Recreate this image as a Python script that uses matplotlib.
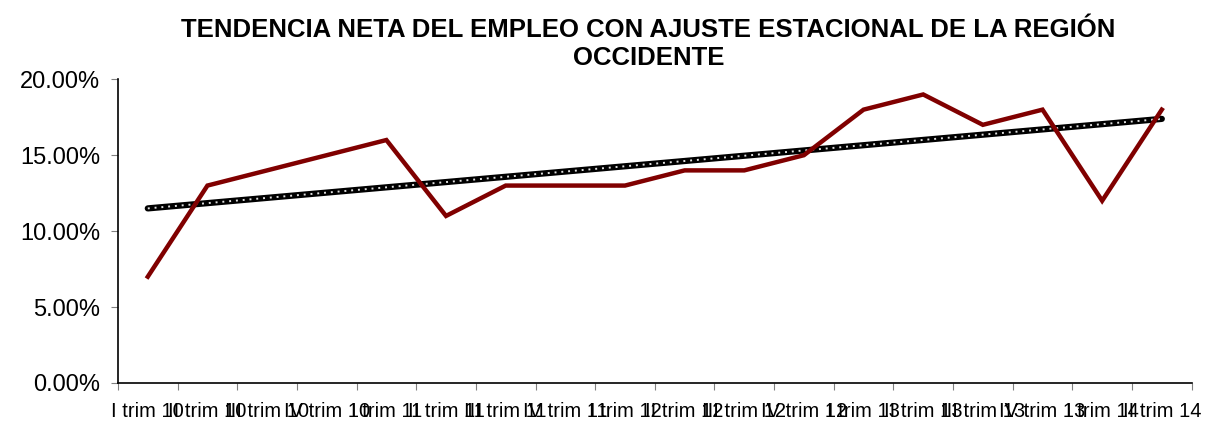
import numpy as np
import matplotlib.pyplot as plt

plt.rcParams["font.family"] = ["Liberation Sans", "DejaVu Sans"]

# Quarter labels and net employment trend (%)
quarters = ["I trim 10", "II trim 10", "III trim 10", "IV trim 10",
            "I trim 11", "II trim 11", "III trim 11", "IV trim 11",
            "I trim 12", "II trim 12", "III trim 12", "IV trim 12",
            "I trim 13", "II trim 13", "III trim 13", "IV trim 13",
            "I trim 14", "II trim 14"]
tendencia = [7, 13, 14, 15, 16, 11, 13, 13, 13, 14, 14, 15, 18, 19, 17, 18, 12, 18]

x = np.arange(len(quarters))
y = np.array(tendencia, dtype=float)

# linear trend line
slope, intercept = np.polyfit(x, y, 1)
trend = slope * x + intercept

fig = plt.figure(figsize=(12.05, 4.23), dpi=100)
ax = fig.add_axes([0.0979, 0.0946, 0.891, 0.718])

ax.plot(x, trend, color="black", linewidth=4.5, solid_capstyle="round", zorder=2)
ax.plot(x, trend, color="#e0e0e0", linewidth=1.4, linestyle=(0, (1, 2.5)), zorder=3)
ax.plot(x, y, color="#800000", linewidth=3.2, solid_joinstyle="miter", zorder=4)

ax.set_xlim(-0.5, len(quarters) - 0.5)
ax.set_ylim(0, 20)
ax.set_yticks([0, 5, 10, 15, 20])
ax.set_yticklabels(["0.00%", "5.00%", "10.00%", "15.00%", "20.00%"])

# ticks between categories, labels at centers
ax.set_xticks(np.arange(-0.5, len(quarters), 1.0))
ax.set_xticklabels([])
ax.set_xticks(x, minor=True)
ax.set_xticklabels(quarters, minor=True)
ax.tick_params(axis="x", which="minor", length=0, labelsize=14.5, pad=14)
ax.tick_params(axis="x", which="major", length=5, color="#808080")
ax.tick_params(axis="y", length=5, color="#808080", labelsize=17, pad=8)

ax.spines["top"].set_visible(False)
ax.spines["right"].set_visible(False)
ax.spines["left"].set_linewidth(1.2)
ax.spines["bottom"].set_linewidth(1.2)

fig.text(0.538, 0.958, "TENDENCIA NETA DEL EMPLEO CON AJUSTE ESTACIONAL DE LA REGIÓN\nOCCIDENTE",
         ha="center", va="top", fontsize=18.5, fontweight="bold", linespacing=1.2)

fig.savefig("out.png", dpi=100)
